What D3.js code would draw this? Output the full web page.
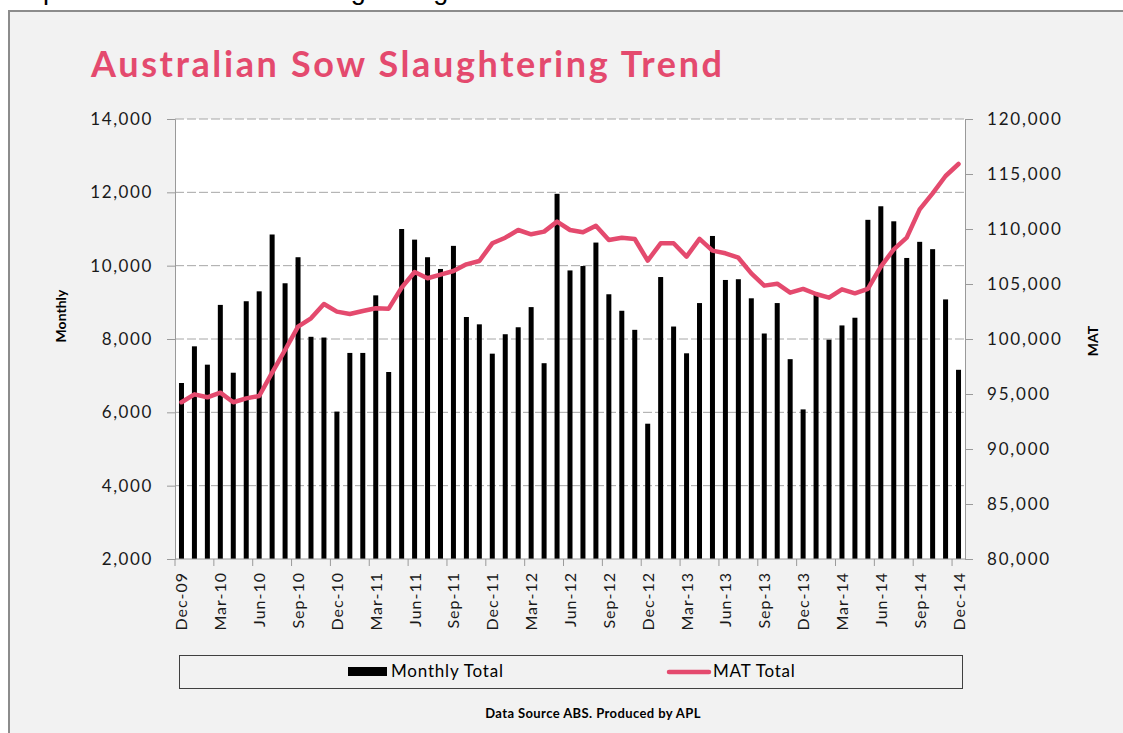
<!DOCTYPE html>
<html>
<head>
<meta charset="utf-8">
<script src="https://cdn.jsdelivr.net/npm/d3@7"></script>
<style>
  body { margin: 0; background: #fff; }
  svg { display: block; }
  text { font-family: Lato, "Open Sans", sans-serif; }
</style>
</head>
<body>
<div id="chart"></div>
<script>
const width = 1123,
    height = 733;

// months shown on the category axis
const months = [
  "Dec-09",
  "Jan-10","Feb-10","Mar-10","Apr-10","May-10","Jun-10","Jul-10","Aug-10","Sep-10","Oct-10","Nov-10","Dec-10",
  "Jan-11","Feb-11","Mar-11","Apr-11","May-11","Jun-11","Jul-11","Aug-11","Sep-11","Oct-11","Nov-11","Dec-11",
  "Jan-12","Feb-12","Mar-12","Apr-12","May-12","Jun-12","Jul-12","Aug-12","Sep-12","Oct-12","Nov-12","Dec-12",
  "Jan-13","Feb-13","Mar-13","Apr-13","May-13","Jun-13","Jul-13","Aug-13","Sep-13","Oct-13","Nov-13","Dec-13",
  "Jan-14","Feb-14","Mar-14","Apr-14","May-14","Jun-14","Jul-14","Aug-14","Sep-14","Oct-14","Nov-14","Dec-14"
];

const monthlyTotal = [
  6800,
  7800, 7300, 8930, 7080, 9030, 9300, 10850, 9520, 10230, 8060, 8040, 6020,
  7620, 7620, 9190, 7100, 11000, 10710, 10230, 9910, 10540, 8600, 8400, 7600,
  8130, 8320, 8870, 7340, 11960, 9870, 9990, 10630, 9220, 8770, 8250, 5690,
  9690, 8340, 7610, 8980, 10810, 9610, 9630, 9110, 8150, 8980, 7450, 6080,
  9200, 7980, 8370, 8580, 11250, 11620, 11210, 10210, 10650, 10450, 9080, 7160
];

const matTotal = [
  94250,
  94970, 94700, 95120, 94250, 94600, 94820, 96940, 99000, 101120, 101880, 103180, 102490,
  102270, 102550, 102790, 102760, 104670, 106090, 105520, 105850, 106180, 106790, 107090, 108700,
  109210, 109910, 109520, 109760, 110670, 109910, 109700, 110300, 109000, 109210, 109090, 107120,
  108700, 108700, 107490, 109100, 108030, 107790, 107390, 105970, 104850, 105030, 104210, 104550,
  104090, 103760, 104520, 104150, 104550, 106580, 108150, 109210, 111790, 113240, 114820, 115910
];

const leftTicks = [2000, 4000, 6000, 8000, 10000, 12000, 14000];
const rightTicks = [80000, 85000, 90000, 95000, 100000, 105000, 110000, 115000, 120000];
const labelMonths = months.filter((d, i) => i % 3 === 0);

const pink = "#E44A6E";
const plot = {left: 175, right: 965, top: 119, bottom: 559};

const svg = d3.select("#chart")
  .append("svg")
  .attr("width", width)
  .attr("height", height);

// caption line above the chart, mostly scrolled off the top
svg.append("text")
  .attr("x", -2)
  .attr("y", -1)
  .style("font-family", "'Liberation Sans', sans-serif")
  .style("font-size", "27px")
  .style("fill", "#000")
  .text("Graph 1: Australian Sow Slaughtering from December 2009 to December 2014");

// chart area
svg.append("rect")
  .attr("x", 9)
  .attr("y", 11)
  .attr("width", 1130)
  .attr("height", 740)
  .style("fill", "#F2F2F2")
  .style("stroke", "#8C8C8C")
  .style("stroke-width", 2);

svg.append("rect")
  .attr("x", plot.left)
  .attr("y", plot.top)
  .attr("width", plot.right - plot.left)
  .attr("height", plot.bottom - plot.top)
  .style("fill", "#fff");

const x = d3.scaleBand()
  .domain(months)
  .range([plot.left, plot.right])
  .padding(0);

const yLeft = d3.scaleLinear()
  .domain([2000, 14000])
  .range([plot.bottom, plot.top]);

const yRight = d3.scaleLinear()
  .domain([80000, 120000])
  .range([plot.bottom, plot.top]);

// gridlines
svg.append("g")
  .selectAll("line")
  .data(leftTicks.filter(d => d > 2000))
  .enter()
  .append("line")
  .attr("x1", plot.left)
  .attr("x2", plot.right)
  .attr("y1", d => yLeft(d))
  .attr("y2", d => yLeft(d))
  .style("stroke", "#A6A6A6")
  .style("stroke-width", 1)
  .style("stroke-dasharray", "9,3");

// bars
const barW = 5;
svg.append("g")
  .selectAll("rect")
  .data(monthlyTotal)
  .enter()
  .append("rect")
  .attr("x", (d, i) => x(months[i]) + x.bandwidth() / 2 - barW / 2)
  .attr("y", d => yLeft(d))
  .attr("width", barW)
  .attr("height", d => plot.bottom - yLeft(d))
  .style("fill", "#000");

// left axis
const leftAxis = svg.append("g")
  .attr("transform", "translate(" + plot.left + ",0)")
  .call(d3.axisLeft(yLeft).tickValues(leftTicks).tickSize(8).tickPadding(14).tickFormat(d3.format(",")));
leftAxis.select(".domain").style("stroke", "#9A9A9A");
leftAxis.selectAll(".tick line").style("stroke", "#9A9A9A");
leftAxis.selectAll("text")
  .style("font-size", "17px")
  .style("letter-spacing", "1.6px")
  .style("fill", "#1a1a1a");

// right axis
const rightAxis = svg.append("g")
  .attr("transform", "translate(" + plot.right + ",0)")
  .call(d3.axisRight(yRight).tickValues(rightTicks).tickSize(8).tickPadding(14).tickFormat(d3.format(",")));
rightAxis.select(".domain").style("stroke", "#9A9A9A");
rightAxis.selectAll(".tick line").style("stroke", "#9A9A9A");
rightAxis.selectAll("text")
  .style("font-size", "17px")
  .style("letter-spacing", "1.8px")
  .style("fill", "#1a1a1a");

// bottom axis
const bottom = svg.append("g");
bottom.append("line")
  .attr("x1", plot.left)
  .attr("x2", plot.right)
  .attr("y1", plot.bottom)
  .attr("y2", plot.bottom)
  .style("stroke", "#9A9A9A");
bottom.selectAll(".tk")
  .data(labelMonths)
  .enter()
  .append("line")
  .attr("x1", d => x(d))
  .attr("x2", d => x(d))
  .attr("y1", plot.bottom)
  .attr("y2", plot.bottom + 7)
  .style("stroke", "#9A9A9A");
bottom.selectAll("text")
  .data(labelMonths)
  .enter()
  .append("text")
  .attr("transform", d => "translate(" + (x(d) + x.bandwidth() / 2 + 6) + "," + (plot.bottom + 13) + ") rotate(-90)")
  .attr("text-anchor", "end")
  .style("font-size", "16px")
  .style("letter-spacing", "1px")
  .style("fill", "#1a1a1a")
  .text(d => d);

// MAT line
const line = d3.line()
  .x((d, i) => x(months[i]) + x.bandwidth() / 2)
  .y(d => yRight(d));

svg.append("path")
  .datum(matTotal)
  .attr("d", line)
  .style("fill", "none")
  .style("stroke", pink)
  .style("stroke-width", 4.5)
  .style("stroke-linejoin", "round")
  .style("stroke-linecap", "round");

// titles
svg.append("text")
  .attr("x", 91)
  .attr("y", 77)
  .attr("textLength", 631)
  .attr("lengthAdjust", "spacing")
  .style("font-size", "36px")
  .style("font-weight", "bold")
  .style("fill", pink)
  .text("Australian Sow Slaughtering Trend");

svg.append("text")
  .attr("transform", "translate(66,316) rotate(-90)")
  .attr("text-anchor", "middle")
  .style("font-size", "14px")
  .style("font-weight", "bold")
  .text("Monthly");

svg.append("text")
  .attr("transform", "translate(1098,341) rotate(-90)")
  .attr("text-anchor", "middle")
  .style("font-size", "14px")
  .style("font-weight", "bold")
  .text("MAT");

// legend
const legend = svg.append("g");
legend.append("rect")
  .attr("x", 179.5)
  .attr("y", 655.5)
  .attr("width", 783)
  .attr("height", 33)
  .style("fill", "#F2F2F2")
  .style("stroke", "#404040")
  .style("stroke-width", 1);
legend.append("rect")
  .attr("x", 348)
  .attr("y", 667)
  .attr("width", 39)
  .attr("height", 9)
  .style("fill", "#000");
legend.append("text")
  .attr("x", 391)
  .attr("y", 677)
  .style("font-size", "17px")
  .style("letter-spacing", "0.8px")
  .text("Monthly Total");
legend.append("line")
  .attr("x1", 669)
  .attr("x2", 709)
  .attr("y1", 672)
  .attr("y2", 672)
  .style("stroke", pink)
  .style("stroke-width", 4.5)
  .style("stroke-linecap", "round");
legend.append("text")
  .attr("x", 713)
  .attr("y", 677)
  .style("font-size", "17px")
  .style("letter-spacing", "0.8px")
  .text("MAT Total");

svg.append("text")
  .attr("x", 593)
  .attr("y", 718)
  .attr("text-anchor", "middle")
  .style("font-size", "13px")
  .style("font-weight", "bold")
  .style("letter-spacing", "0.4px")
  .text("Data Source ABS. Produced by APL");
</script>
</body>
</html>
